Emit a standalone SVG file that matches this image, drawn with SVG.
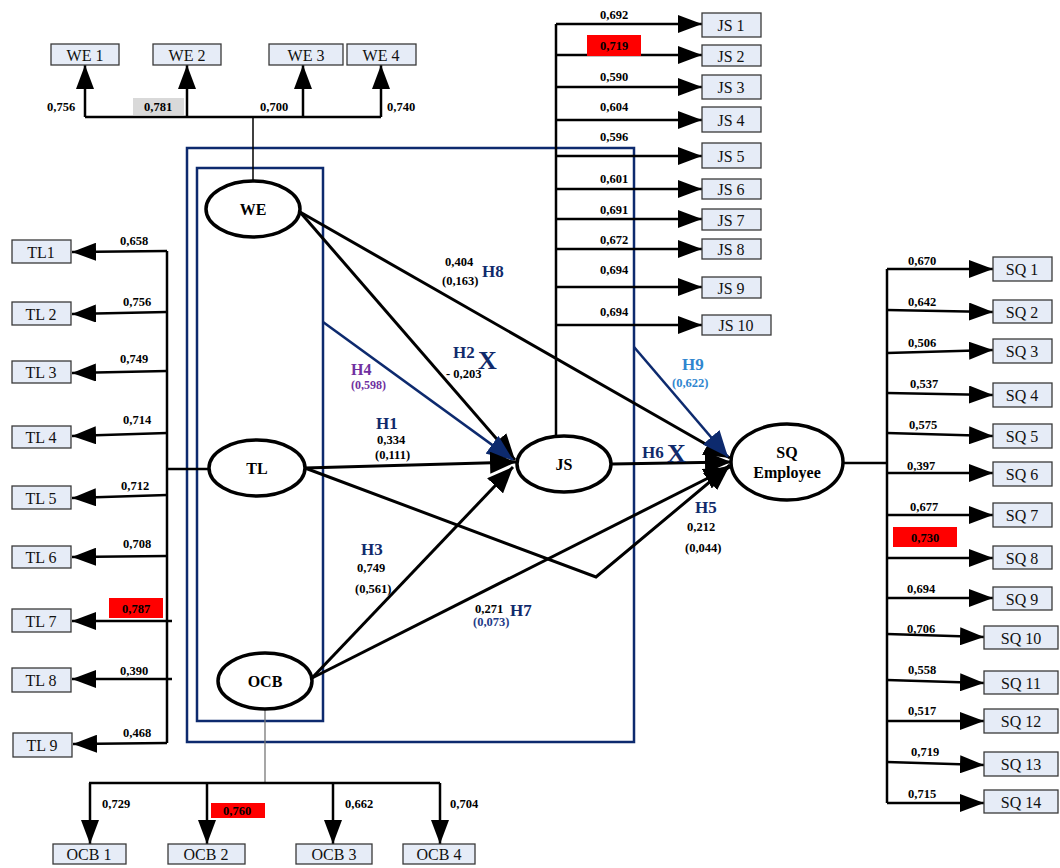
<svg xmlns="http://www.w3.org/2000/svg" width="1060" height="868" viewBox="0 0 1060 868">
<style>
.bx{fill:#e6ecf7;stroke:#3a3a3a;stroke-width:1.3}
.bt{font-family:"Liberation Serif",serif;font-size:16px;fill:#111;text-anchor:middle}
.lv{fill:#fff;stroke:#000;stroke-width:3.5}
.lt{font-family:"Liberation Serif",serif;font-size:16px;font-weight:bold;fill:#000;text-anchor:middle}
.n{font-family:"Liberation Serif",serif;font-size:12.5px;font-weight:bold;fill:#000}
.h{font-family:"Liberation Serif",serif;font-size:17px;font-weight:bold;fill:#102a6b}
.x{font-family:"Liberation Serif",serif;font-size:26px;font-weight:bold;fill:#102a6b}
.ln{fill:none;stroke:#000;stroke-width:2.5}
.bl{fill:none;stroke:#0d2a6e;stroke-width:2.5}
.ind{fill:none;stroke:#000;stroke-width:2.5;marker-end:url(#ah)}
.str{fill:none;stroke:#000;stroke-width:3;marker-end:url(#ahb)}
.strb{fill:none;stroke:#0d2a6e;stroke-width:2.6;marker-end:url(#ahblue)}
</style>
<defs>
<marker id="ah" markerUnits="userSpaceOnUse" markerWidth="24" markerHeight="18" refX="24" refY="9" orient="auto"><path d="M0,0 L24,9 L0,18 z" fill="#000"/></marker>
<marker id="ahb" markerUnits="userSpaceOnUse" markerWidth="26" markerHeight="22" refX="26" refY="11" orient="auto"><path d="M0,0 L26,11 L0,22 z" fill="#000"/></marker>
<marker id="ahblue" markerUnits="userSpaceOnUse" markerWidth="26" markerHeight="22" refX="26" refY="11" orient="auto"><path d="M0,0 L26,11 L0,22 z" fill="#0d2a6e"/></marker>
</defs>
<rect width="1060" height="868" fill="#fff"/>

<g id="frames">
<rect x="187" y="148" width="447" height="594" class="bl"/>
<rect x="197" y="168" width="126" height="553" class="bl"/>
</g>

<g id="connectors">
<path d="M85,117 H381" class="ln"/>
<path d="M253,117 V181" fill="none" stroke="#000" stroke-width="1.5"/>
<path d="M85,117 V65" class="ind"/>
<path d="M187,117 V65" class="ind"/>
<path d="M303,117 V65" class="ind"/>
<path d="M381,117 V65" class="ind"/>
<path d="M167,251 V743" class="ln"/>
<path d="M167,469 H209" class="ln"/>
<path d="M167,251 L72,252" class="ind"/>
<path d="M167,312 L72,314" class="ind"/>
<path d="M167,371 L72,373" class="ind"/>
<path d="M167,433 L72,436" class="ind"/>
<path d="M167,495 L72,498" class="ind"/>
<path d="M167,556 L72,557" class="ind"/>
<path d="M172,621 L72,621" class="ind"/>
<path d="M172,679 L72,679" class="ind"/>
<path d="M167,743 L73,744" class="ind"/>
<path d="M265,709 V783" fill="none" stroke="#777" stroke-width="1.3"/>
<path d="M89,783 H440" class="ln"/>
<path d="M90,783 V844" class="ind"/>
<path d="M207,783 V844" class="ind"/>
<path d="M333,783 V844" class="ind"/>
<path d="M440,783 V844" class="ind"/>
<path d="M556,24 V437" class="ln"/>
<path d="M556,24 H702" class="ind"/>
<path d="M556,55 H702" class="ind"/>
<path d="M556,87 H702" class="ind"/>
<path d="M556,120 H702" class="ind"/>
<path d="M556,156 H702" class="ind"/>
<path d="M556,189 H702" class="ind"/>
<path d="M556,219 H702" class="ind"/>
<path d="M556,249 H702" class="ind"/>
<path d="M556,287 H702" class="ind"/>
<path d="M556,325 H702" class="ind"/>
<path d="M843,463 H887" class="ln"/>
<path d="M887,269 V803" class="ln"/>
<path d="M887,269 H993" class="ind"/>
<path d="M887,310 L993,312" class="ind"/>
<path d="M887,353 L993,350" class="ind"/>
<path d="M887,393 L993,395" class="ind"/>
<path d="M887,433 L993,436" class="ind"/>
<path d="M887,473 H993" class="ind"/>
<path d="M887,515 H993" class="ind"/>
<path d="M887,558 H993" class="ind"/>
<path d="M887,598 H993" class="ind"/>
<path d="M887,634 L984,637" class="ind"/>
<path d="M887,680 L984,683" class="ind"/>
<path d="M887,721 H984" class="ind"/>
<path d="M887,762 L984,765" class="ind"/>
<path d="M887,803 L984,803" class="ind"/>
<path d="M300,212 L515,460" class="str"/>
<path d="M323,322 L513,460" class="strb"/>
<path d="M305,468 L516,462" class="str"/>
<path d="M312,678 L513,467" class="str"/>
<path d="M300,212 L730,458" class="str"/>
<path d="M634,347 L728,457" class="strb"/>
<path d="M612,464 L731,462" class="str"/>
<path d="M305,468 L596,577 L730,465" class="str"/>
<path d="M312,678 L730,467" class="str"/>
</g>

<g id="WE"><ellipse cx="253" cy="209" rx="47" ry="28" class="lv"/><text x="253" y="215" class="lt">WE</text></g>
<g id="TL"><ellipse cx="257" cy="468" rx="48" ry="28" class="lv"/><text x="257" y="474" class="lt">TL</text></g>
<g id="OCB"><ellipse cx="265" cy="681" rx="47" ry="28" class="lv"/><text x="265" y="687" class="lt">OCB</text></g>
<g id="JS"><ellipse cx="564" cy="464" rx="47" ry="28" class="lv"/><text x="564" y="470" class="lt">JS</text></g>
<g id="SQ"><ellipse cx="787" cy="462" rx="56" ry="38" class="lv"/><text x="787" y="458" class="lt">SQ</text><text x="787" y="478" class="lt">Employee</text></g>

<g id="WE1"><rect x="51" y="44" width="68" height="21" class="bx"/><text x="85" y="61" class="bt">WE 1</text></g>
<g id="WE2"><rect x="153" y="44" width="68" height="21" class="bx"/><text x="187" y="61" class="bt">WE 2</text></g>
<g id="WE3"><rect x="269" y="44" width="74" height="21" class="bx"/><text x="306" y="61" class="bt">WE 3</text></g>
<g id="WE4"><rect x="347" y="44" width="69" height="21" class="bx"/><text x="381" y="61" class="bt">WE 4</text></g>

<g id="TL1"><rect x="12" y="240" width="59" height="23" class="bx"/><text x="41" y="258" class="bt">TL1</text></g>
<g id="TL2"><rect x="12" y="302" width="59" height="23" class="bx"/><text x="41" y="320" class="bt">TL 2</text></g>
<g id="TL3"><rect x="12" y="361" width="59" height="22" class="bx"/><text x="41" y="378" class="bt">TL 3</text></g>
<g id="TL4"><rect x="12" y="426" width="59" height="22" class="bx"/><text x="41" y="443" class="bt">TL 4</text></g>
<g id="TL5"><rect x="12" y="486" width="59" height="23" class="bx"/><text x="41" y="504" class="bt">TL 5</text></g>
<g id="TL6"><rect x="12" y="546" width="59" height="22" class="bx"/><text x="41" y="563" class="bt">TL 6</text></g>
<g id="TL7"><rect x="12" y="609" width="59" height="23" class="bx"/><text x="41" y="627" class="bt">TL 7</text></g>
<g id="TL8"><rect x="12" y="668" width="59" height="24" class="bx"/><text x="41" y="686" class="bt">TL 8</text></g>
<g id="TL9"><rect x="13" y="733" width="59" height="24" class="bx"/><text x="42" y="751" class="bt">TL 9</text></g>

<g id="OCB1"><rect x="53" y="844" width="73" height="20" class="bx"/><text x="89" y="860" class="bt">OCB 1</text></g>
<g id="OCB2"><rect x="168" y="844" width="77" height="20" class="bx"/><text x="206" y="860" class="bt">OCB 2</text></g>
<g id="OCB3"><rect x="296" y="844" width="76" height="20" class="bx"/><text x="334" y="860" class="bt">OCB 3</text></g>
<g id="OCB4"><rect x="403" y="844" width="72" height="20" class="bx"/><text x="439" y="860" class="bt">OCB 4</text></g>

<g id="JS1"><rect x="702" y="13" width="59" height="24" class="bx"/><text x="731" y="31" class="bt">JS 1</text></g>
<g id="JS2"><rect x="702" y="45" width="59" height="21" class="bx"/><text x="731" y="62" class="bt">JS 2</text></g>
<g id="JS3"><rect x="702" y="75" width="59" height="24" class="bx"/><text x="731" y="93" class="bt">JS 3</text></g>
<g id="JS4"><rect x="702" y="107" width="59" height="25" class="bx"/><text x="731" y="126" class="bt">JS 4</text></g>
<g id="JS5"><rect x="702" y="143" width="59" height="25" class="bx"/><text x="731" y="162" class="bt">JS 5</text></g>
<g id="JS6"><rect x="702" y="179" width="59" height="20" class="bx"/><text x="731" y="195" class="bt">JS 6</text></g>
<g id="JS7"><rect x="702" y="209" width="59" height="21" class="bx"/><text x="731" y="226" class="bt">JS 7</text></g>
<g id="JS8"><rect x="702" y="239" width="59" height="20" class="bx"/><text x="731" y="255" class="bt">JS 8</text></g>
<g id="JS9"><rect x="702" y="277" width="59" height="21" class="bx"/><text x="731" y="294" class="bt">JS 9</text></g>
<g id="JS10"><rect x="702" y="315" width="69" height="20" class="bx"/><text x="736" y="331" class="bt">JS 10</text></g>

<g id="SQ1"><rect x="993" y="257" width="59" height="24" class="bx"/><text x="1022" y="275" class="bt">SQ 1</text></g>
<g id="SQ2"><rect x="993" y="300" width="59" height="23" class="bx"/><text x="1022" y="318" class="bt">SQ 2</text></g>
<g id="SQ3"><rect x="993" y="339" width="59" height="24" class="bx"/><text x="1022" y="357" class="bt">SQ 3</text></g>
<g id="SQ4"><rect x="993" y="383" width="59" height="24" class="bx"/><text x="1022" y="401" class="bt">SQ 4</text></g>
<g id="SQ5"><rect x="993" y="424" width="59" height="24" class="bx"/><text x="1022" y="442" class="bt">SQ 5</text></g>
<g id="SQ6"><rect x="993" y="462" width="59" height="24" class="bx"/><text x="1022" y="480" class="bt">SQ 6</text></g>
<g id="SQ7"><rect x="993" y="503" width="59" height="24" class="bx"/><text x="1022" y="521" class="bt">SQ 7</text></g>
<g id="SQ8"><rect x="993" y="546" width="59" height="23" class="bx"/><text x="1022" y="564" class="bt">SQ 8</text></g>
<g id="SQ9"><rect x="993" y="587" width="59" height="23" class="bx"/><text x="1022" y="605" class="bt">SQ 9</text></g>
<g id="SQ10"><rect x="984" y="626" width="74" height="23" class="bx"/><text x="1021" y="644" class="bt">SQ 10</text></g>
<g id="SQ11"><rect x="984" y="671" width="74" height="23" class="bx"/><text x="1021" y="689" class="bt">SQ 11</text></g>
<g id="SQ12"><rect x="984" y="709" width="74" height="24" class="bx"/><text x="1021" y="727" class="bt">SQ 12</text></g>
<g id="SQ13"><rect x="984" y="752" width="74" height="24" class="bx"/><text x="1021" y="770" class="bt">SQ 13</text></g>
<g id="SQ14"><rect x="984" y="790" width="74" height="23" class="bx"/><text x="1021" y="808" class="bt">SQ 14</text></g>

<g id="loadings">
<rect x="133" y="98" width="51" height="17" fill="#d9d9d9"/>
<text x="47" y="111" class="n">0,756</text>
<text x="144" y="111" class="n">0,781</text>
<text x="260" y="111" class="n">0,700</text>
<text x="387" y="111" class="n">0,740</text>
<text x="120" y="245" class="n">0,658</text>
<text x="123" y="306" class="n">0,756</text>
<text x="120" y="363" class="n">0,749</text>
<text x="123" y="424" class="n">0,714</text>
<text x="121" y="490" class="n">0,712</text>
<text x="123" y="548" class="n">0,708</text>
<rect x="109" y="598" width="54" height="20" fill="#ff0000"/>
<text x="122" y="613" class="n">0,787</text>
<text x="120" y="675" class="n">0,390</text>
<text x="123" y="737" class="n">0,468</text>
<text x="102" y="808" class="n">0,729</text>
<rect x="211" y="803" width="54" height="15" fill="#ff0000"/>
<text x="223" y="815" class="n">0,760</text>
<text x="345" y="808" class="n">0,662</text>
<text x="450" y="808" class="n">0,704</text>
<text x="600" y="19" class="n">0,692</text>
<rect x="587" y="35" width="54" height="21" fill="#ff0000"/>
<text x="600" y="50" class="n">0,719</text>
<text x="600" y="81" class="n">0,590</text>
<text x="600" y="111" class="n">0,604</text>
<text x="600" y="141" class="n">0,596</text>
<text x="600" y="183" class="n">0,601</text>
<text x="600" y="214" class="n">0,691</text>
<text x="600" y="244" class="n">0,672</text>
<text x="600" y="274" class="n">0,694</text>
<text x="600" y="316" class="n">0,694</text>
<text x="908" y="265" class="n">0,670</text>
<text x="908" y="306" class="n">0,642</text>
<text x="908" y="347" class="n">0,506</text>
<text x="910" y="388" class="n">0,537</text>
<text x="909" y="429" class="n">0,575</text>
<text x="907" y="470" class="n">0,397</text>
<text x="910" y="511" class="n">0,677</text>
<rect x="893" y="527" width="64" height="20" fill="#ff0000"/>
<text x="911" y="542" class="n">0,730</text>
<text x="907" y="593" class="n">0,694</text>
<text x="907" y="633" class="n">0,706</text>
<text x="908" y="674" class="n">0,558</text>
<text x="908" y="715" class="n">0,517</text>
<text x="911" y="756" class="n">0,719</text>
<text x="908" y="798" class="n">0,715</text>
</g>

<g id="paths-labels">
<text x="445" y="266" class="n">0,404</text>
<text x="442" y="285" class="n">(0,163)</text>
<text x="482" y="277" class="h">H8</text>
<text x="453" y="358" class="h">H2</text>
<text x="478" y="369" class="x">X</text>
<text x="446" y="378" class="n">- 0,203</text>
<text x="351" y="375" class="h" style="fill:#7030a0;font-size:16px">H4</text>
<text x="351" y="389" class="n" style="fill:#7030a0;font-size:12px">(0,598)</text>
<text x="376" y="429" class="h">H1</text>
<text x="377" y="444" class="n">0,334</text>
<text x="375" y="459" class="n">(0,111)</text>
<text x="361" y="555" class="h">H3</text>
<text x="357" y="572" class="n">0,749</text>
<text x="355" y="593" class="n">(0,561)</text>
<text x="475" y="613" class="n">0,271</text>
<text x="473" y="626" class="n" style="fill:#1f3c88">(0,073)</text>
<text x="510" y="616" class="h">H7</text>
<text x="682" y="370" class="h" style="fill:#2f86cf">H9</text>
<text x="672" y="387" class="n" style="fill:#2f86cf">(0,622)</text>
<text x="642" y="458" class="h">H6</text>
<text x="667" y="462" class="x">X</text>
<text x="695" y="513" class="h">H5</text>
<text x="687" y="531" class="n">0,212</text>
<text x="685" y="552" class="n">(0,044)</text>
</g>
</svg>
